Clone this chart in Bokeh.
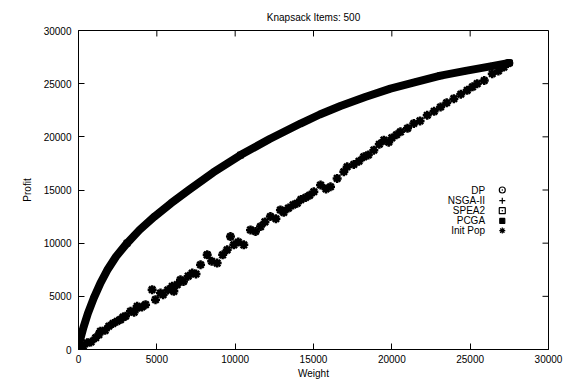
from bokeh.plotting import figure
from bokeh.models import Range1d, FixedTicker, Label
from bokeh.embed import file_html
from bokeh.resources import INLINE

# ---- data ----
dp_weight = [0, 100, 320, 600, 980, 1400, 1830, 2400, 3100, 3900, 4850, 5900, 7040, 8600,
             10340, 12200, 14170, 15400, 16720, 18300, 19910, 21500, 23110, 24700, 26300, 27500]
dp_profit = [0, 900, 2100, 3400, 4850, 6250, 7450, 8750, 10000, 11250, 12500, 13750, 15000, 16650,
             18280, 19800, 21250, 22100, 22900, 23750, 24530, 25150, 25750, 26200, 26625, 26950]

nsga_weight = [1830, 7040, 14170, 19910, 26300]
nsga_profit = [7450, 15000, 21250, 24530, 26625]

spea2_weight = [3100, 8215, 10340, 23110, 27500]
spea2_profit = [10000, 8900, 18280, 25750, 26950]

pcga_weight = [980, 4850, 16720, 27500]
pcga_profit = [4850, 12500, 22900, 26950]

init_weight = [300, 555, 800, 1100, 1300, 1400, 1700, 1935, 2200, 2470, 2680, 2850, 3000, 3320,
               3550, 3745, 3745, 4050, 4280, 4700, 4915, 5235, 5400, 5700, 5980, 6085, 6300,
               6510, 6700, 7000, 7260, 7500, 7790, 8215, 8500, 8850, 9200, 9490, 9700, 9915,
               10200, 10550, 10980, 11300, 11620, 11900, 12250, 12600, 12890, 13100, 13400,
               13700, 13960, 14200, 14500, 14750, 15020, 15450, 15800, 16085, 16510, 16935,
               17150, 17570, 17900, 18210, 18500, 18850, 19200, 19490, 19800, 20000, 20300,
               20550, 21000, 21400, 21800, 22260, 22700, 23110, 23500, 23960, 24400, 24810,
               25150, 25450, 25900, 26410, 26800, 27150, 27400]
init_profit = [300, 625, 700, 1100, 1400, 1720, 1800, 2190, 2450, 2660, 2810, 3050, 3125, 3590,
               3500, 3900, 4060, 4000, 4220, 5625, 4690, 5310, 5150, 5600, 5940, 5470, 6100,
               6560, 6400, 6900, 7190, 7100, 7970, 8900, 8300, 8125, 8900, 9375, 10620, 9840,
               10100, 9840, 11250, 11100, 11560, 12000, 12500, 12300, 13125, 12900, 13300,
               13600, 13750, 14100, 14300, 14500, 14840, 15470, 15100, 15310, 16090, 16720,
               17190, 17400, 17700, 18120, 18300, 18750, 19300, 19690, 19500, 19900, 20200,
               20470, 20800, 21250, 21500, 22030, 22400, 22810, 23200, 23590, 24000, 24375,
               24700, 25000, 25300, 25940, 26200, 26560, 26900]

legend_labels = ["DP", "NSGA-II", "SPEA2", "PCGA", "Init Pop"]
axis_ticks = [0, 5000, 10000, 15000, 20000, 25000, 30000]

FONT = "Liberation Sans"
X_MAX = 30000
Y_MAX = 30000
FRAME_W = 470
FRAME_H = 320
TICK_PX = 6

p = figure(width=574, height=381, output_backend="svg", toolbar_location=None,
           x_range=Range1d(0, X_MAX), y_range=Range1d(0, Y_MAX),
           min_border_left=78, min_border_right=26, min_border_top=30, min_border_bottom=31,
           title="Knapsack Items: 500", x_axis_label="Weight", y_axis_label="Profit")

p.title.align = "center"
p.title.text_font = FONT
p.title.text_font_size = "10px"
p.title.text_font_style = "normal"
p.title.text_color = "black"
p.title.offset = 0
p.title.standoff = 15

p.grid.visible = False
p.outline_line_color = "black"
p.outline_line_width = 1
p.outline_line_alpha = 1

for ax in (p.xaxis[0], p.yaxis[0]):
    ax.ticker = FixedTicker(ticks=axis_ticks)
    ax.major_tick_in = TICK_PX
    ax.major_tick_out = 0
    ax.minor_tick_in = 0
    ax.minor_tick_out = 0
    ax.major_tick_line_color = "black"
    ax.axis_line_color = "black"
    ax.major_label_text_font = FONT
    ax.major_label_text_font_size = "10px"
    ax.major_label_text_color = "black"
    ax.axis_label_text_font = FONT
    ax.axis_label_text_font_size = "10px"
    ax.axis_label_text_font_style = "normal"
    ax.axis_label_text_color = "black"
p.xaxis[0].major_label_standoff = 5
p.xaxis[0].axis_label_standoff = 2
p.yaxis[0].major_label_standoff = 7
p.yaxis[0].axis_label_standoff = 8

# mirrored inward ticks on top and right (gnuplot style), derived from the tick list
dx = TICK_PX * X_MAX / FRAME_W
dy = TICK_PX * Y_MAX / FRAME_H
n = len(axis_ticks)
p.segment(x0=axis_ticks, y0=[Y_MAX] * n, x1=axis_ticks, y1=[Y_MAX - dy] * n,
          line_color="black", line_width=1)
p.segment(x0=[X_MAX] * n, y0=axis_ticks, x1=[X_MAX - dx] * n, y1=axis_ticks,
          line_color="black", line_width=1)

# DP front: dense thick band
p.line(dp_weight, dp_profit, line_color="black", line_width=8, line_join="round", line_cap="round")
p.scatter(dp_weight, dp_profit, marker="circle_dot", size=6, fill_color=None, line_color="black")
p.scatter(nsga_weight, nsga_profit, marker="cross", size=6, line_color="black")
p.scatter(spea2_weight, spea2_profit, marker="square_dot", size=6, fill_color=None, line_color="black")
p.scatter(pcga_weight, pcga_profit, marker="square", size=5, fill_color="black", line_color="black")
p.scatter(init_weight, init_profit, marker="asterisk", size=9, line_color="black", line_width=2.5)

# gnuplot-style key: text right-aligned, symbol to the right
key_text_x = 25950
key_mark_x = 27050
key_rows = [15000, 14000, 13060, 12090, 11180]
key_markers = [("circle_dot", None, 6), ("cross", "black", 6), ("square_dot", None, 6),
               ("square", "black", 5), ("asterisk", "black", 6)]
for lab, yy, (mk, fc, sz) in zip(legend_labels, key_rows, key_markers):
    p.add_layout(Label(x=key_text_x, y=yy, text=lab, text_align="right", text_baseline="middle",
                       text_font=FONT, text_font_size="10px", text_color="black"))
    p.scatter([key_mark_x], [yy], marker=mk, size=sz, fill_color=fc, line_color="black",
              line_width=1.2)

open("out.html", "w").write(file_html(p, INLINE))
